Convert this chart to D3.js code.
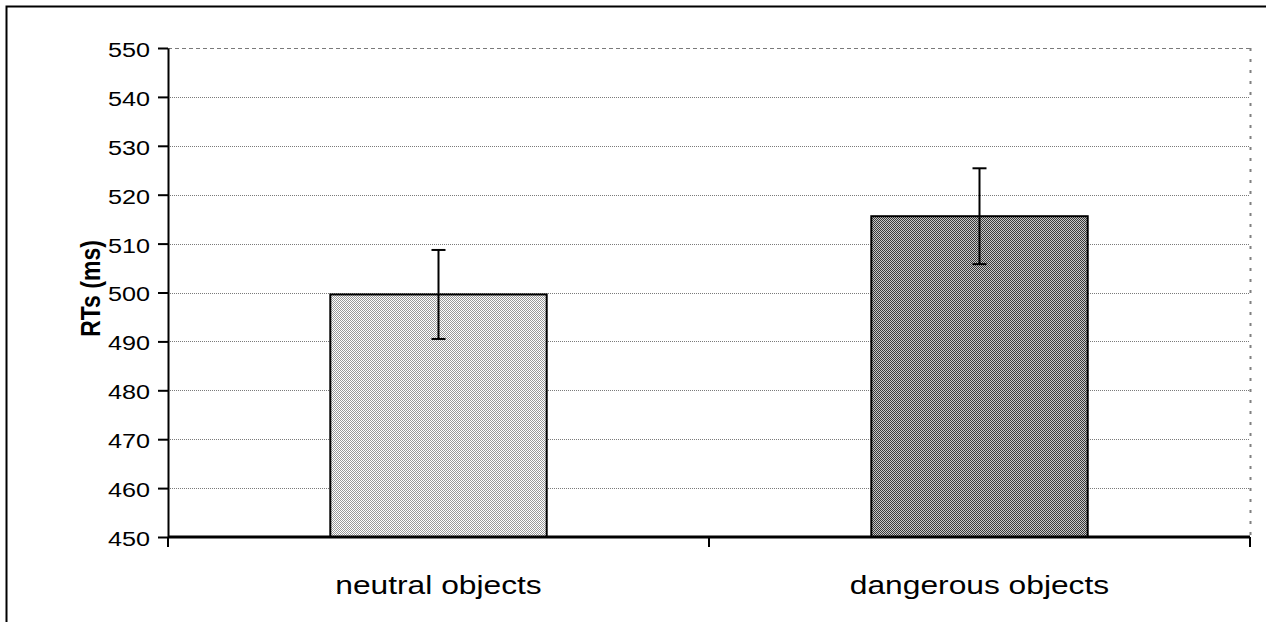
<!DOCTYPE html>
<html>
<head>
<meta charset="utf-8">
<script src="https://cdn.jsdelivr.net/npm/d3@7"></script>
<style>
  body { margin: 0; background: #fff; }
  svg { display: block; font-family: "Liberation Sans", Arial, sans-serif; }
</style>
</head>
<body>
<svg width="1266" height="622"></svg>
<script>
// chart data
var categories = ['neutral objects', 'dangerous objects'];
var means = [499.6, 515.6];
var errors = [9.1, 9.8];
var yTicks = [450, 460, 470, 480, 490, 500, 510, 520, 530, 540, 550];

var margins = {top: 48, right: 16, bottom: 85, left: 168},
	svgWidth = 1266,
	svgHeight = 622,
	width = svgWidth - margins.left - margins.right,
	height = svgHeight - margins.top - margins.bottom,
	stretch = 1.2; // text in the original is drawn a little wide

var svg = d3.select('svg');

// fill patterns
var defs = svg.append('defs');
var patterns = [
	{id: 'pat0', a: '#ffffff', b: '#999999'},
	{id: 'pat1', a: '#c8c8c8', b: '#3a3a3a'}
];
patterns.forEach(function(p) {
	var pat = defs.append('pattern')
		.attr('id', p.id)
		.attr('patternUnits', 'userSpaceOnUse')
		.attr('width', 2).attr('height', 2);
	pat.append('rect').attr('width', 2).attr('height', 2).attr('fill', p.a);
	pat.append('rect').attr('width', 1).attr('height', 1).attr('fill', p.b);
	pat.append('rect').attr('x', 1).attr('y', 1).attr('width', 1).attr('height', 1).attr('fill', p.b);
});

// outer frame (only top and left visible)
svg.append('rect')
	.attr('x', 6.5).attr('y', 6.5)
	.attr('width', svgWidth).attr('height', svgHeight)
	.attr('fill', 'none')
	.attr('stroke', '#000')
	.attr('stroke-width', 2);

var g = svg.append('g')
	.attr('transform', 'translate(' + margins.left + ',' + margins.top + ')');

var x = d3.scaleBand().domain(categories).range([0, width]).paddingInner(0.6).paddingOuter(0.3);
var xLine = d3.scalePoint().domain(d3.range(categories.length + 1)).range([0, width]);
var y = d3.scaleLinear().domain([450, 550]).range([height, 0]);

// gridlines
g.selectAll('.grid')
	.data(yTicks.slice(1))
	.enter().append('line')
	.attr('x1', 0).attr('x2', width)
	.attr('y1', function(d) { return Math.round(y(d)) + 0.5; })
	.attr('y2', function(d) { return Math.round(y(d)) + 0.5; })
	.attr('stroke', '#7a7a7a')
	.attr('stroke-width', 1)
	.attr('stroke-dasharray', function(d) { return d === 550 ? '4,3' : '1,1'; });

// plot area right border
g.append('line')
	.attr('x1', width + 0.5).attr('x2', width + 0.5)
	.attr('y1', 0).attr('y2', height)
	.attr('stroke', '#808080')
	.attr('stroke-width', 2)
	.attr('stroke-dasharray', '3,8');

// bars
g.selectAll('.bar')
	.data(categories)
	.enter().append('rect')
	.attr('x', function(d) { return x(d); })
	.attr('y', function(d, i) { return y(means[i]); })
	.attr('width', x.bandwidth())
	.attr('height', function(d, i) { return height - y(means[i]); })
	.attr('fill', function(d, i) { return 'url(#pat' + i + ')'; })
	.attr('stroke', '#000')
	.attr('stroke-width', 2);

// error bars
var eb = g.selectAll('.err')
	.data(categories)
	.enter().append('g');
eb.append('line')
	.attr('x1', function(d) { return x(d) + x.bandwidth() / 2; })
	.attr('x2', function(d) { return x(d) + x.bandwidth() / 2; })
	.attr('y1', function(d, i) { return y(means[i] + errors[i]); })
	.attr('y2', function(d, i) { return y(means[i] - errors[i]); })
	.attr('stroke', '#000').attr('stroke-width', 2);
[1, -1].forEach(function(s) {
	eb.append('line')
		.attr('x1', function(d) { return x(d) + x.bandwidth() / 2 - 7; })
		.attr('x2', function(d) { return x(d) + x.bandwidth() / 2 + 7; })
		.attr('y1', function(d, i) { return y(means[i] + s * errors[i]); })
		.attr('y2', function(d, i) { return y(means[i] + s * errors[i]); })
		.attr('stroke', '#000').attr('stroke-width', 2);
});

// y axis
var yAxis = g.append('g')
	.call(d3.axisLeft(y).tickValues(yTicks).tickSize(10).tickSizeOuter(0));
yAxis.select('.domain').attr('stroke-width', 2);
yAxis.selectAll('.tick line').attr('stroke-width', 2);
yAxis.selectAll('text')
	.attr('x', 0)
	.attr('dy', '0.4em')
	.attr('transform', 'translate(-18,0) scale(' + stretch + ',1)')
	.attr('font-size', 21)
	.attr('font-family', '"Liberation Sans", Arial, sans-serif')
	.attr('fill', '#000');

// x axis
var xAxis = g.append('g')
	.attr('transform', 'translate(0,' + height + ')');
xAxis.append('line')
	.attr('x1', 0).attr('x2', width)
	.attr('stroke', '#000').attr('stroke-width', 3);
xAxis.selectAll('.xt')
	.data(xLine.domain())
	.enter().append('line')
	.attr('x1', function(d) { return xLine(d); })
	.attr('x2', function(d) { return xLine(d); })
	.attr('y1', 0).attr('y2', 10)
	.attr('stroke', '#000').attr('stroke-width', 2);
xAxis.selectAll('.xl')
	.data(categories)
	.enter().append('text')
	.attr('transform', function(d) {
		return 'translate(' + (x(d) + x.bandwidth() / 2) + ',57) scale(1.27,1)';
	})
	.attr('text-anchor', 'middle')
	.attr('font-size', 25)
	.text(function(d) { return d; });

// y label
svg.append('text')
	.attr('transform', 'translate(100,' + (margins.top + height / 2 - 4) + ') scale(' + stretch + ',1) rotate(-90)')
	.attr('text-anchor', 'middle')
	.attr('font-size', 23)
	.attr('font-weight', 'bold')
	.text('RTs (ms)');
</script>
</body>
</html>
